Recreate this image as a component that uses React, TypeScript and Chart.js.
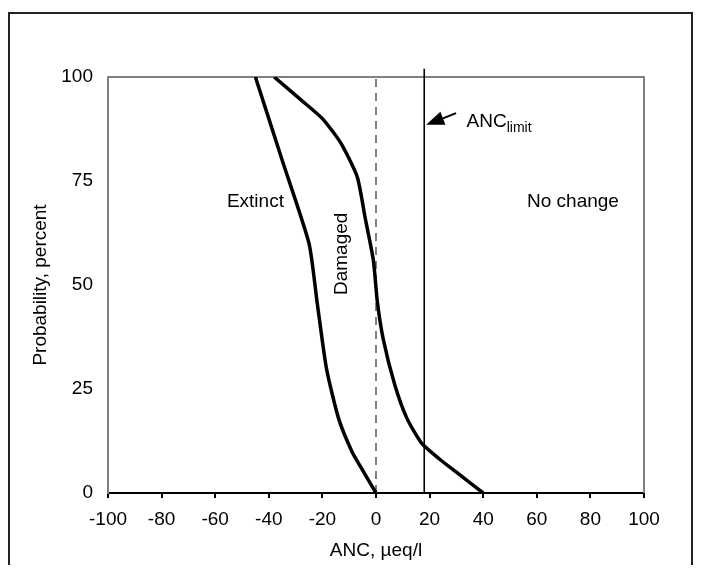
import { useEffect, useRef } from "react";
import { Chart, registerables } from "chart.js";

Chart.register(...registerables);

const FONT = '"Liberation Sans", Arial, Helvetica, sans-serif';

// Curve separating "Extinct" from "Damaged"
const extinctAnc = [-45, -35, -25, -22, -18.5, -14, -9, -5, 0];
const extinctProb = [100, 80, 60, 46, 30, 18, 10, 5.5, 0];

// Curve separating "Damaged" from "No change"
const damagedAnc = [-38, -28, -20, -13, -7, -4, -1, 0.5, 2.7, 7, 11.5, 17, 24, 30, 40];
const damagedProb = [100, 94.5, 90, 84, 76, 66, 56, 46, 37, 26, 18, 12, 8, 5, 0];

// Dashed reference line at ANC = 0
const zeroAnc = [0, 0];
const zeroProb = [0, 100];

// ANC limit line
const limitAnc = [18, 18];
const limitProb = [0, 102];

// Axis ranges / ticks
const xMin = -100;
const xMax = 100;
const xStep = 20;
const yMin = 0;
const yMax = 100;
const yStep = 25;

// Region labels
const regionLabels = ["Extinct", "Damaged", "No change"];
const regionLabelAnc = [-45, -12.8, 73.5];
const regionLabelProb = [70, 57.5, 70];

// ANC limit annotation
const limitLabel = "ANC";
const limitSub = "limit";
const arrowTip = { x: 18.7, y: 88.5 };
const arrowTail = { x: 29.9, y: 91.3 };
const limitTextPos = { x: 33.8, y: 88 };

const pts = (xs: number[], ys: number[]) => xs.map((v, i) => ({ x: v, y: ys[i] }));

const annotationPlugin = {
  id: "annotations",
  beforeDatasetsDraw(chart: any) {
    const { ctx, chartArea } = chart;
    ctx.save();
    ctx.strokeStyle = "#808080";
    ctx.lineWidth = 2;
    ctx.beginPath();
    ctx.moveTo(chartArea.left - 1, chartArea.top);
    ctx.lineTo(chartArea.right, chartArea.top);
    ctx.lineTo(chartArea.right, chartArea.bottom);
    ctx.stroke();
    ctx.restore();
  },
  afterDatasetsDraw(chart: any) {
    const { ctx } = chart;
    const x = chart.scales.x;
    const y = chart.scales.y;
    ctx.save();
    ctx.fillStyle = "#000";
    ctx.font = `19px ${FONT}`;
    ctx.textAlign = "center";
    ctx.textBaseline = "middle";
    regionLabels.forEach((t, i) => {
      const px = x.getPixelForValue(regionLabelAnc[i]);
      const py = y.getPixelForValue(regionLabelProb[i]);
      if (t === "Damaged") {
        ctx.save();
        ctx.translate(px, py);
        ctx.rotate(-Math.PI / 2);
        ctx.fillText(t, 0, 0);
        ctx.restore();
      } else {
        ctx.fillText(t, px, py);
      }
    });

    // arrow
    const tx = x.getPixelForValue(arrowTip.x);
    const ty = y.getPixelForValue(arrowTip.y);
    const sx = x.getPixelForValue(arrowTail.x);
    const sy = y.getPixelForValue(arrowTail.y);
    const ang = Math.atan2(ty - sy, tx - sx);
    const headLen = 18;
    const headHalf = 7;
    const bx = tx - headLen * Math.cos(ang);
    const by = ty - headLen * Math.sin(ang);
    ctx.strokeStyle = "#000";
    ctx.lineWidth = 2;
    ctx.beginPath();
    ctx.moveTo(sx, sy);
    ctx.lineTo(bx, by);
    ctx.stroke();
    ctx.beginPath();
    ctx.moveTo(tx, ty);
    ctx.lineTo(bx + headHalf * Math.sin(ang), by - headHalf * Math.cos(ang));
    ctx.lineTo(bx - headHalf * Math.sin(ang), by + headHalf * Math.cos(ang));
    ctx.closePath();
    ctx.fill();

    // ANC limit text
    const lx = x.getPixelForValue(limitTextPos.x);
    const ly = y.getPixelForValue(limitTextPos.y);
    ctx.textAlign = "left";
    ctx.textBaseline = "alphabetic";
    ctx.font = `19px ${FONT}`;
    ctx.fillText(limitLabel, lx, ly);
    const w = ctx.measureText(limitLabel).width;
    ctx.font = `14px ${FONT}`;
    ctx.fillText(limitSub, lx + w, ly + 5);
    ctx.restore();
  },
};

export default function App() {
  const ref = useRef<HTMLCanvasElement | null>(null);

  useEffect(() => {
    if (!ref.current) return;
    const tickFont = { family: FONT, size: 19 };
    const chart = new Chart(ref.current, {
      type: "scatter",
      data: {
        datasets: [
          {
            data: pts(extinctAnc, extinctProb),
            showLine: true,
            borderColor: "#000",
            borderWidth: 3.5,
            pointRadius: 0,
            tension: 0.2,
            fill: false,
          },
          {
            data: pts(damagedAnc, damagedProb),
            showLine: true,
            borderColor: "#000",
            borderWidth: 3.5,
            pointRadius: 0,
            tension: 0.2,
            fill: false,
          },
          {
            data: pts(zeroAnc, zeroProb),
            showLine: true,
            borderColor: "#808080",
            borderWidth: 2,
            borderDash: [8, 6],
            pointRadius: 0,
            fill: false,
          },
          {
            data: pts(limitAnc, limitProb),
            showLine: true,
            borderColor: "#000",
            borderWidth: 1.6,
            pointRadius: 0,
            fill: false,
            clip: false,
          },
        ],
      },
      options: {
        animation: false,
        responsive: false,
        maintainAspectRatio: false,
        layout: { padding: { top: 63, right: 47, left: 0, bottom: 0 } },
        plugins: {
          legend: { display: false },
          tooltip: { enabled: false },
        },
        scales: {
          x: {
            type: "linear",
            min: xMin,
            max: xMax,
            ticks: { stepSize: xStep, font: tickFont, color: "#000", padding: 10, maxRotation: 0 },
            grid: { display: true, drawOnChartArea: false, drawTicks: true, tickLength: 5, color: "#000", lineWidth: 2 },
            border: { display: true, color: "#000", width: 2 },
            title: { display: true, text: "ANC, µeq/l", font: tickFont, color: "#000", padding: { top: 0, bottom: 17 } },
            afterFit: (s: any) => {
              s.height = 86;
            },
          },
          y: {
            type: "linear",
            min: yMin,
            max: yMax,
            ticks: { stepSize: yStep, font: tickFont, color: "#000", padding: 15 },
            grid: { display: false, drawTicks: false },
            border: { display: true, color: "#808080", width: 2 },
            title: { display: true, text: "Probability, percent", font: tickFont, color: "#000", padding: { top: 19, bottom: 0 } },
            afterFit: (s: any) => {
              s.width = 98;
            },
          },
        },
      },
      plugins: [annotationPlugin],
    } as any);
    return () => chart.destroy();
  }, []);

  return (
    <div style={{ position: "relative", height: 557, overflow: "hidden" }}>
      <div
        style={{
          position: "absolute",
          left: 0,
          top: 4,
          width: 685,
          height: 580,
          border: "2px solid #222",
          boxSizing: "border-box",
        }}
      >
        <canvas ref={ref} width={681} height={565} style={{ display: "block", width: 681, height: 565 }} />
      </div>
    </div>
  );
}
